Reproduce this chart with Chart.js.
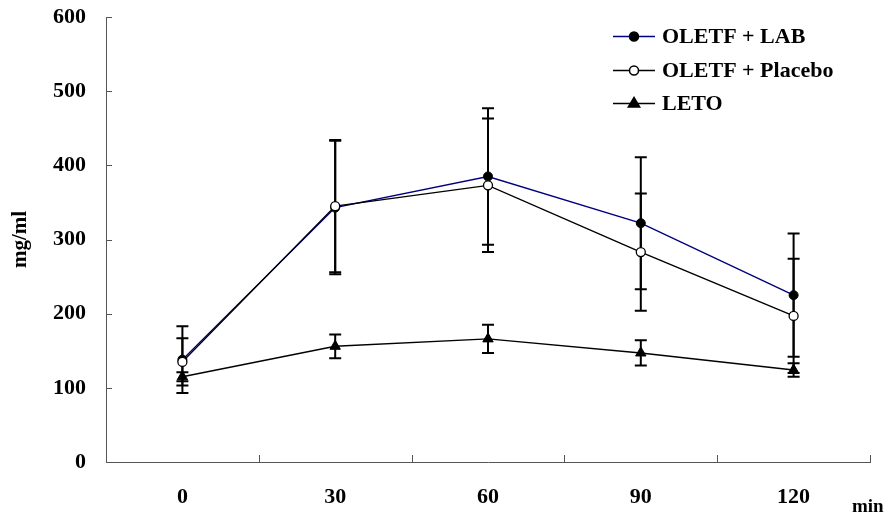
<!DOCTYPE html>
<html>
<head>
<meta charset="utf-8">
<script src="https://cdn.jsdelivr.net/npm/chart.js@4.4.1/dist/chart.umd.min.js"></script>
<style>
  html, body { margin: 0; padding: 0; background: #fff; }
  #wrap { width: 895px; height: 518px; position: relative; }
</style>
</head>
<body>
<div id="wrap"><canvas id="c" width="895" height="518"></canvas></div>
<script>
// Sampling times (min)
const categories = ['0', '30', '60', '90', '120'];

// Means and error half-widths for each group
const labMean = [138, 343, 385, 322, 225];
const labErr = [45, 90, 92, 89, 83];
const placeboMean = [135, 345, 373, 283, 197];
const placeboErr = [32, 89, 90, 79, 77];
const letoMean = [115, 156, 166, 147, 124];
const letoErr = [6, 16, 19, 17, 9];

// Y-axis ticks
const yTicks = [0, 100, 200, 300, 400, 500, 600];

const seriesNames = ['OLETF + LAB', 'OLETF + Placebo', 'LETO'];
const FONT = '"Liberation Serif", "Times New Roman", serif';
const AXIS = '#555';

const errors = [labErr, placeboErr, letoErr];

const decorPlugin = {
  id: 'decor',
  beforeDatasetsDraw(chart) {
    const ctx = chart.ctx;
    const x = chart.scales.x, y = chart.scales.y;
    ctx.save();
    // inward tick marks
    ctx.strokeStyle = AXIS;
    ctx.lineWidth = 1;
    yTicks.forEach(v => {
      const py = Math.round(y.getPixelForValue(v)) + 0.5;
      ctx.beginPath();
      ctx.moveTo(x.left, py);
      ctx.lineTo(x.left + 6, py);
      ctx.stroke();
    });
    const step = x.width / categories.length;
    for (let k = 1; k <= categories.length; k++) {
      const px = Math.round(x.left + k * step) + 0.5;
      ctx.beginPath();
      ctx.moveTo(px, y.bottom);
      ctx.lineTo(px, y.bottom - 7);
      ctx.stroke();
    }
    // error bars
    ctx.strokeStyle = '#000';
    ctx.lineWidth = 2;
    chart.data.datasets.forEach((ds, di) => {
      const err = errors[di];
      ds.data.forEach((v, i) => {
        const px = x.getPixelForValue(i);
        const yTop = y.getPixelForValue(v + err[i]);
        const yBot = y.getPixelForValue(v - err[i]);
        ctx.beginPath();
        ctx.moveTo(px, yTop);
        ctx.lineTo(px, yBot);
        ctx.moveTo(px - 6, yTop);
        ctx.lineTo(px + 6, yTop);
        ctx.moveTo(px - 6, yBot);
        ctx.lineTo(px + 6, yBot);
        ctx.stroke();
      });
    });
    ctx.restore();
  },
  afterDraw(chart) {
    const ctx = chart.ctx;
    ctx.save();
    // legend
    const lx = 613, lw = 42, rows = [36, 70, 103];
    chart.data.datasets.forEach((ds, i) => {
      const ry = rows[i] + 0.5;
      ctx.strokeStyle = ds.borderColor;
      ctx.lineWidth = 1.5;
      ctx.beginPath();
      ctx.moveTo(lx, ry);
      ctx.lineTo(lx + lw, ry);
      ctx.stroke();
      const cx = lx + lw / 2;
      ctx.lineWidth = 1.5;
      ctx.strokeStyle = '#000';
      ctx.fillStyle = ds.pointBackgroundColor;
      ctx.beginPath();
      if (ds.pointStyle === 'triangle') {
        const r = ds.pointRadius;
        ctx.moveTo(cx, ry - r);
        ctx.lineTo(cx + r * 0.95, ry + r * 0.6);
        ctx.lineTo(cx - r * 0.95, ry + r * 0.6);
        ctx.closePath();
      } else {
        ctx.arc(cx, ry, ds.pointRadius, 0, Math.PI * 2);
      }
      ctx.fill();
      ctx.stroke();
      ctx.fillStyle = '#000';
      ctx.font = 'bold 22px ' + FONT;
      ctx.textBaseline = 'middle';
      ctx.textAlign = 'left';
      ctx.fillText(ds.label, 662, ry + 1);
    });
    // unit label for the time axis
    ctx.font = 'bold 19px ' + FONT;
    ctx.textAlign = 'left';
    ctx.textBaseline = 'alphabetic';
    ctx.fillText('min', 852, 512);
    ctx.restore();
  }
};

new Chart(document.getElementById('c'), {
  type: 'line',
  data: {
    labels: categories,
    datasets: [
      {
        label: seriesNames[0], data: labMean, order: 1,
        borderColor: '#000080', borderWidth: 1.4,
        pointStyle: 'circle', pointRadius: 4.5,
        pointBackgroundColor: '#000', pointBorderColor: '#000', pointBorderWidth: 1
      },
      {
        label: seriesNames[1], data: placeboMean, order: 0,
        borderColor: '#000', borderWidth: 1.4,
        pointStyle: 'circle', pointRadius: 4.5,
        pointBackgroundColor: '#fff', pointBorderColor: '#000', pointBorderWidth: 1.3
      },
      {
        label: seriesNames[2], data: letoMean, order: 2,
        borderColor: '#000', borderWidth: 1.4,
        pointStyle: 'triangle', pointRadius: 6,
        pointBackgroundColor: '#000', pointBorderColor: '#000', pointBorderWidth: 1
      }
    ]
  },
  options: {
    responsive: false,
    animation: false,
    devicePixelRatio: 1,
    layout: { padding: { top: 17, right: 25, left: 0, bottom: 0 } },
    plugins: { legend: { display: false }, tooltip: { enabled: false } },
    elements: { line: { tension: 0 } },
    scales: {
      x: {
        type: 'category',
        offset: true,
        grid: { display: false, drawTicks: false },
        border: { display: true, color: AXIS, width: 1 },
        ticks: { color: '#000', font: { family: FONT, size: 22, weight: 'bold' }, padding: 22, maxRotation: 0 },
        afterFit(s) { s.height = 56; s.paddingLeft = 0; s.paddingRight = 0; }
      },
      y: {
        min: 0, max: 600,
        afterBuildTicks(s) { s.ticks = yTicks.map(v => ({ value: v })); },
        grid: { display: false, drawTicks: false },
        border: { display: true, color: AXIS, width: 1 },
        ticks: { color: '#000', font: { family: FONT, size: 22, weight: 'bold' }, padding: 20 },
        title: { display: true, text: 'mg/ml', color: '#000', font: { family: FONT, size: 21, weight: 'bold' }, padding: { top: 8, bottom: 0 } },
        afterFit(s) { s.width = 106; s.paddingTop = 0; s.paddingBottom = 0; }
      }
    }
  },
  plugins: [decorPlugin]
});
</script>
</body>
</html>
